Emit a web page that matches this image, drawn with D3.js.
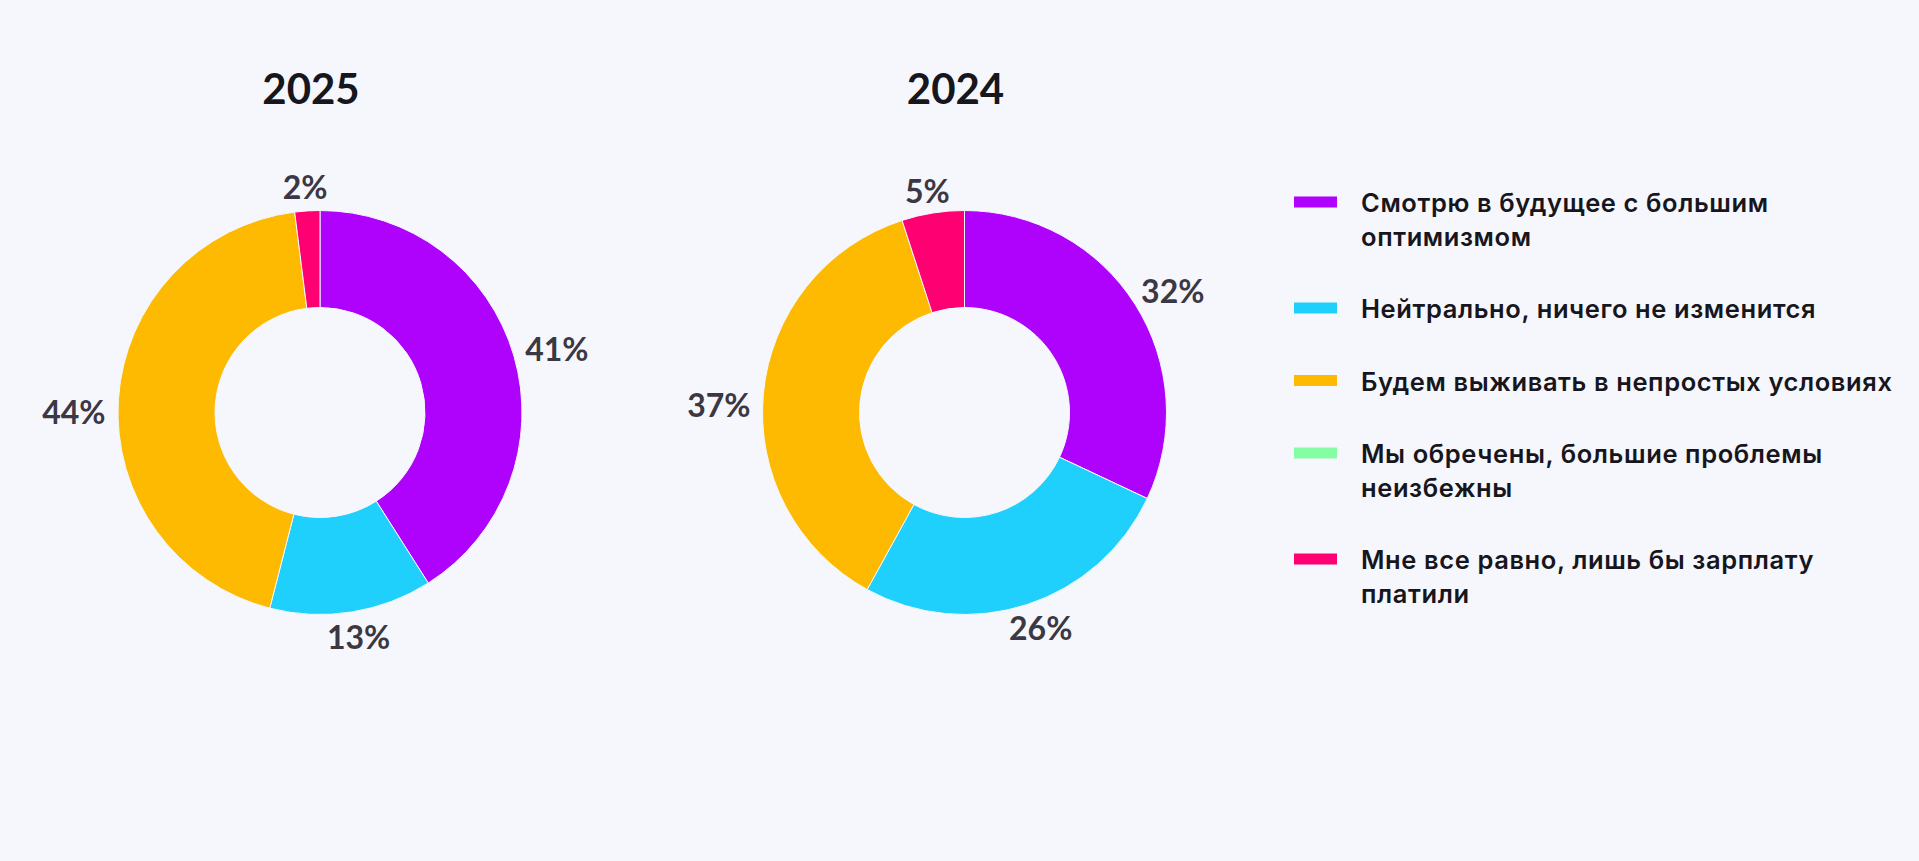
<!DOCTYPE html>
<html>
<head>
<meta charset="utf-8">
<script src="https://cdn.jsdelivr.net/npm/d3@7"></script>
<style>
  html, body { margin: 0; padding: 0; background: #f6f7fc; }
  svg { display: block; }
</style>
</head>
<body>
<svg id="chart" width="1919" height="861"></svg>
<script>
// ---- data ----
const categories = [
  "Смотрю в будущее с большим\nоптимизмом",
  "Нейтрально, ничего не изменится",
  "Будем выживать в непростых условиях",
  "Мы обречены, большие проблемы\nнеизбежны",
  "Мне все равно, лишь бы зарплату\nплатили"
];
const years = ["2025", "2024"];
const values2025 = [41, 13, 44, 0, 2];
const values2024 = [32, 26, 37, 0, 5];
const colors = ["#ae02fc", "#20d0fc", "#fdba00", "#84fda4", "#fe0072"];

// ---- layout ----
const W = 1919, H = 861;
const svg = d3.select("#chart");
svg.append("rect").attr("width", W).attr("height", H).attr("fill", "#f6f7fc");

const FONT = "Lato, 'Noto Sans', sans-serif";
const LEGFONT = "Inter, 'Noto Sans', sans-serif";
const outerR = 202, innerR = 105;
const centers = [{x: 320, y: 412.5}, {x: 964.5, y: 412.5}];
const seriesList = [values2025, values2024];

const color = d3.scaleOrdinal().domain(categories).range(colors);
const pie = d3.pie().sort(null).value(d => d.v);
const arc = d3.arc().innerRadius(innerR).outerRadius(outerR);

seriesList.forEach((vals, i) => {
  const c = centers[i];
  const data = categories.map((cat, k) => ({cat, v: vals[k]}));
  const g = svg.append("g").attr("transform", `translate(${c.x},${c.y})`);

  // title
  svg.append("text")
    .attr("x", c.x - 9).attr("y", 103.5)
    .attr("text-anchor", "middle")
    .attr("font-family", FONT).attr("font-weight", 700)
    .attr("font-size", 42).attr("fill", "#17161c")
    .text(years[i]);

  const arcs = pie(data).filter(d => d.data.v > 0);
  g.selectAll("path.slice").data(arcs).enter().append("path")
    .attr("class", "slice")
    .attr("d", arc)
    .attr("fill", d => color(d.data.cat))
    .attr("stroke", "#f6f7fc")
    .attr("stroke-width", 1);

  const gap = 13, capH = 24;
  g.selectAll("text.lbl").data(arcs).enter().append("text")
    .attr("class", "lbl")
    .attr("text-anchor", "middle")
    .attr("font-family", FONT).attr("font-weight", 700)
    .attr("font-size", 32).attr("fill", "#3b3843")
    .text(d => d.data.v + "%")
    .each(function(d) {
      const a = (d.startAngle + d.endAngle) / 2;
      const s = Math.sin(a), co = Math.cos(a);
      const w = this.getComputedTextLength();
      const px = (outerR + gap) * s + s * w / 2;
      // left-side labels sit a little lower, as in the source layout
      const py = -(outerR + gap) * co - co * capH / 2 + Math.max(0, -s) * 14;
      d3.select(this).attr("x", px).attr("y", py + capH / 2);
    });
});

// ---- legend ----
const legX = 1294, textX = 1361;
let baseY = 212;
const lineH = 33.5;
const leg = svg.append("g");
categories.forEach((cat, k) => {
  const lines = cat.split("\n");
  leg.append("rect")
    .attr("x", legX).attr("y", baseY - 10 - 5.5)
    .attr("width", 43).attr("height", 11)
    .attr("fill", colors[k]);
  const t = leg.append("text")
    .attr("font-family", LEGFONT).attr("font-weight", 600)
    .attr("font-size", 25.5).attr("letter-spacing", 0.6)
    .attr("fill", "#17161c");
  lines.forEach((ln, j) => {
    t.append("tspan").attr("x", textX).attr("y", baseY + j * lineH).text(ln);
  });
  baseY += 39 + lines.length * lineH;
});
</script>
</body>
</html>
